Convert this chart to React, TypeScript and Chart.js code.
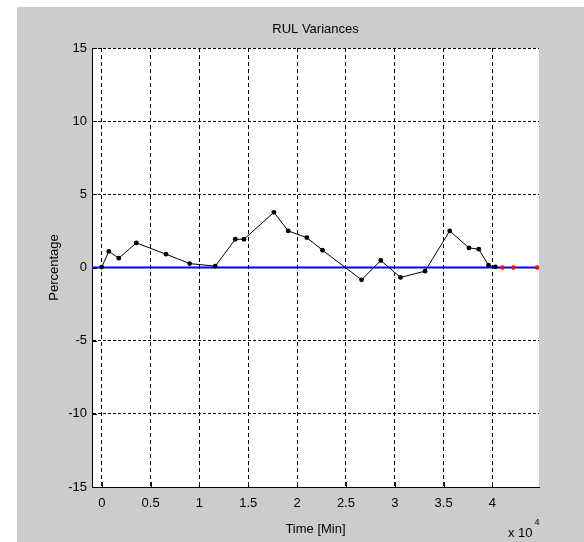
import React, { useEffect, useRef } from "react";
import { Chart, registerables } from "chart.js";

Chart.register(...registerables);

// ---- Data ----
const timeMin: number[] = [
  0, 720, 1740, 3540, 6580, 9000, 11620, 13670, 14560, 17630, 19090, 21000,
  22600, 26600, 28570, 30590, 33100, 35630, 37600, 38600, 39600, 40300,
];
const variancePct: number[] = [
  0.03, 1.1, 0.64, 1.68, 0.91, 0.27, 0.09, 1.93, 1.93, 3.77, 2.5, 2.04, 1.18,
  -0.84, 0.48, -0.68, -0.25, 2.5, 1.34, 1.25, 0.16, 0.04,
];
const forecastTime: number[] = [41020, 42150, 44560];
const forecastPct: number[] = [0, 0, 0];
const referenceLevel = 0;

const xLimits: number[] = [-1000, 44770];
const yLimits: number[] = [-15, 15];
const xTickValues: number[] = [0, 5000, 10000, 15000, 20000, 25000, 30000, 35000, 40000];
const yTickValues: number[] = [-15, -10, -5, 0, 5, 10, 15];
const xScaleFactor = 10000;

const titleText = "RUL Variances";
const xTitle = "Time [Min]";
const yTitle = "Percentage";
const exponentBase = "x 10";
const exponentPower = "4";

const FONT = '"Liberation Sans", Arial, sans-serif';

const matlabPlugin = {
  id: "matlabLook",
  beforeDraw(chart: any) {
    const { ctx, chartArea } = chart;
    const { left, top, right, bottom } = chartArea;
    ctx.save();
    ctx.fillStyle = "#ffffff";
    ctx.fillRect(left, top, right - left, bottom - top);
    ctx.restore();
  },
  beforeDatasetsDraw(chart: any) {
    const { ctx, chartArea, scales } = chart;
    const { left, bottom } = chartArea;
    const len = 5;
    ctx.save();
    ctx.strokeStyle = "#000000";
    ctx.lineWidth = 1;
    ctx.setLineDash([]);
    ctx.beginPath();
    for (const v of yTickValues) {
      const y = Math.round(scales.y.getPixelForValue(v)) + 0.5;
      ctx.moveTo(left, y);
      ctx.lineTo(left + len, y);
    }
    for (const v of xTickValues) {
      const x = Math.round(scales.x.getPixelForValue(v)) + 0.5;
      ctx.moveTo(x, bottom);
      ctx.lineTo(x, bottom - len);
    }
    ctx.stroke();
    ctx.restore();
  },
  afterDraw(chart: any) {
    const { ctx, chartArea } = chart;
    ctx.save();
    ctx.fillStyle = "#000000";
    ctx.textBaseline = "middle";
    ctx.textAlign = "left";
    ctx.font = `13px ${FONT}`;
    const bx = chartArea.right - 31;
    const by = chartArea.bottom + 46;
    ctx.fillText(exponentBase, bx, by);
    const w = ctx.measureText(exponentBase).width;
    ctx.font = `9px ${FONT}`;
    ctx.fillText(exponentPower, bx + w + 2, by - 10);
    ctx.restore();
  },
};

export default function App() {
  const canvasRef = useRef<HTMLCanvasElement | null>(null);

  useEffect(() => {
    if (!canvasRef.current) return;
    const mainPoints = timeMin.map((t, i) => ({ x: t, y: variancePct[i] }));
    const forecastPoints = forecastTime.map((t, i) => ({ x: t, y: forecastPct[i] }));
    const refPoints = xLimits.map((t) => ({ x: t, y: referenceLevel }));

    const chart = new Chart(canvasRef.current, {
      type: "scatter",
      data: {
        datasets: [
          {
            label: "zero",
            data: refPoints,
            showLine: true,
            borderColor: "#0000ff",
            borderWidth: 2,
            pointRadius: 0,
            order: 3,
          },
          {
            label: "RUL variance",
            data: mainPoints,
            showLine: true,
            borderColor: "#000000",
            borderWidth: 1,
            pointRadius: 2.4,
            pointBackgroundColor: "#000000",
            pointBorderColor: "#000000",
            pointBorderWidth: 0,
            order: 2,
          },
          {
            label: "forecast",
            data: forecastPoints,
            showLine: false,
            pointRadius: 2.2,
            pointBackgroundColor: "#ff0000",
            pointBorderColor: "#ff0000",
            pointBorderWidth: 0,
            order: 1,
          },
        ],
      },
      options: {
        responsive: false,
        animation: false,
        devicePixelRatio: 1,
        layout: { padding: { left: 0, top: 0, right: 45, bottom: 0 } },
        plugins: {
          legend: { display: false },
          tooltip: { enabled: false },
          title: {
            display: true,
            text: titleText,
            color: "#000000",
            fullSize: false,
            font: { family: FONT, size: 13, weight: "normal" },
            padding: { top: 22, bottom: 10.4 },
          },
        },
        scales: {
          x: {
            type: "linear",
            min: xLimits[0],
            max: xLimits[1],
            afterBuildTicks: (scale: any) => {
              scale.ticks = xTickValues.map((v) => ({ value: v }));
            },
            afterFit: (scale: any) => {
              scale.height = 55;
            },
            ticks: {
              color: "#000000",
              font: { family: FONT, size: 13 },
              padding: 9,
              maxRotation: 0,
              autoSkip: false,
              callback: (v: any) => String(Number(v) / xScaleFactor),
            },
            grid: { color: "#000000", lineWidth: 1, drawTicks: false },
            border: { display: true, color: "#000000", width: 1, dash: [4, 3] },
            title: {
              display: true,
              text: xTitle,
              color: "#000000",
              font: { family: FONT, size: 13 },
              padding: { top: 0, bottom: 5 },
            },
          },
          y: {
            type: "linear",
            min: yLimits[0],
            max: yLimits[1],
            afterBuildTicks: (scale: any) => {
              scale.ticks = yTickValues.map((v) => ({ value: v }));
            },
            afterFit: (scale: any) => {
              scale.width = 92;
            },
            ticks: {
              color: "#000000",
              font: { family: FONT, size: 13 },
              padding: 5,
              autoSkip: false,
            },
            grid: { color: "#000000", lineWidth: 1, drawTicks: false },
            border: { display: true, color: "#000000", width: 1, dash: [3, 2] },
            title: {
              display: true,
              text: yTitle,
              color: "#000000",
              font: { family: FONT, size: 13 },
              padding: { top: 47, bottom: 0 },
            },
          },
        },
      },
      plugins: [matlabPlugin],
    } as any);

    return () => {
      chart.destroy();
    };
  }, []);

  return (
    <div
      style={{
        position: "absolute",
        left: 0,
        top: 0,
        width: 584,
        height: 542,
        background: "#ffffff",
      }}
    >
      <div
        style={{
          position: "absolute",
          left: 17,
          top: 7,
          right: 0,
          bottom: 0,
          background: "#cccccc",
        }}
      />
      <canvas
        ref={canvasRef}
        width={584}
        height={542}
        style={{ position: "absolute", left: 0, top: 0, width: 584, height: 542 }}
      />
    </div>
  );
}
